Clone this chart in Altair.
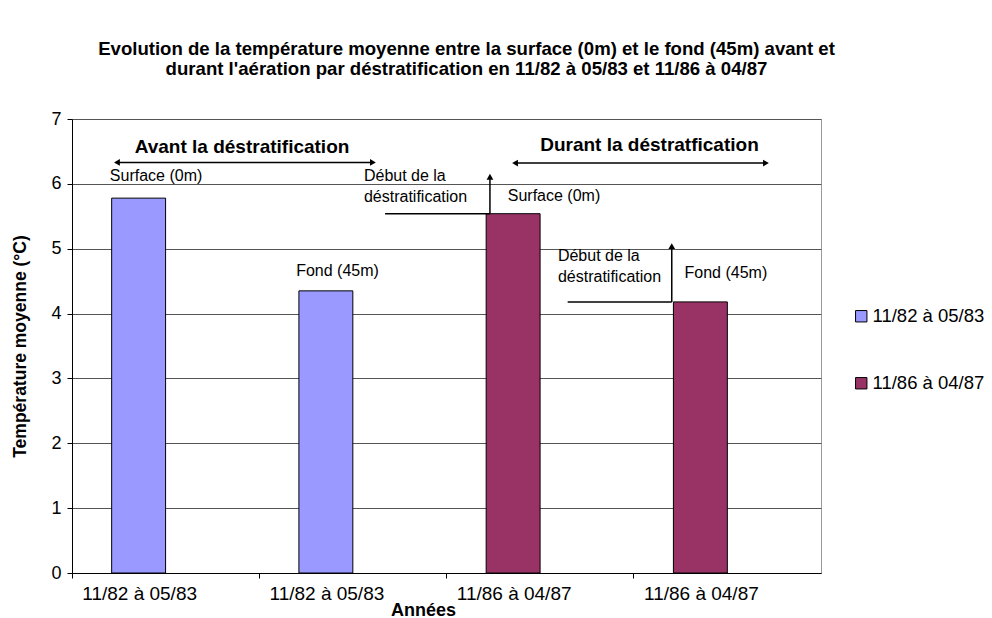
import json
import altair as alt
import pandas as pd

FONT = "Liberation Sans"

# ---- data ----
title_lines = [
    "Evolution de la température moyenne entre la surface (0m) et le fond (45m) avant et",
    "durant l'aération par déstratification en 11/82 à 05/83 et 11/86 à 04/87",
]
categories = ["11/82 à 05/83", "11/82 à 05/83", "11/86 à 04/87", "11/86 à 04/87"]
bar_series = ["11/82 à 05/83", "11/82 à 05/83", "11/86 à 04/87", "11/86 à 04/87"]
values = [5.78, 4.35, 5.54, 4.18]
series_names = ["11/82 à 05/83", "11/86 à 04/87"]
series_colors = ["#9999FF", "#993366"]
y_ticks = [0, 1, 2, 3, 4, 5, 6, 7]

# annotation texts (x in category units 0..4, y in °C)
head_labels = ["Avant la déstratification", "Durant la déstratfication"]
head_x = [0.908, 3.084]
head_y = [6.57, 6.60]

center_labels = ["Surface (0m)", "Fond (45m)", "Surface (0m)", "Fond (45m)"]
center_x = [0.449, 1.418, 2.574, 3.492]
center_y = [6.12, 4.65, 5.81, 4.63]

left_labels = ["Début de la", "déstratification", "Début de la", "déstratification"]
left_x = [1.559, 1.559, 2.595, 2.595]
left_y = [6.12, 5.80, 4.88, 4.57]

# arrows / leader lines
line_x = [0.24, 2.366, 2.232, 3.203, 1.672, 2.647]
line_x2 = [1.607, 3.706, 2.232, 3.203, 2.232, 3.203]
line_y = [6.33, 6.32, values[2], values[3], values[2], values[3]]
line_y2 = [6.33, 6.32, 6.11, 5.04, values[2], values[3]]

head_pt_x = [0.24, 1.607, 2.366, 3.706, 2.232, 3.203]
head_pt_y = [6.33, 6.33, 6.32, 6.32, 6.11, 5.04]
head_pt_shape = ["triangle-left", "triangle-right", "triangle-left", "triangle-right",
                 "triangle-up", "triangle-up"]

# ---- tables ----
bar_df = pd.DataFrame({"idx": list(range(len(categories))), "cat": categories,
                       "series": bar_series, "value": values})
head_df = pd.DataFrame({"t": head_labels, "x": head_x, "y": head_y})
center_df = pd.DataFrame({"t": center_labels, "x": center_x, "y": center_y})
left_df = pd.DataFrame({"t": left_labels, "x": left_x, "y": left_y})
line_df = pd.DataFrame({"x": line_x, "x2": line_x2, "y": line_y, "y2": line_y2})
pt_df = pd.DataFrame({"x": head_pt_x, "y": head_pt_y, "shape": head_pt_shape})

label_expr = json.dumps(categories, ensure_ascii=False) + "[datum.value]"

yscale = alt.Scale(domain=[0, 7], nice=False, zero=True)
ax_scale = alt.Scale(domain=[0, 4], nice=False, zero=False)

bars = alt.Chart(bar_df).mark_bar(
    width=alt.RelativeBandSize(0.288), xOffset=-27, stroke="black", strokeWidth=1, opacity=1
).encode(
    x=alt.X("idx:O", scale=alt.Scale(paddingInner=0, paddingOuter=0),
            axis=alt.Axis(title="Années", labelExpr=label_expr, labelAngle=0,
                          bandPosition=0, labelOffset=-26, labelFontSize=19, labelFont=FONT,
                          labelColor="black", labelPadding=6, tickSize=5, tickColor="black",
                          domainColor="black", grid=False, titleFont=FONT, titleFontSize=18,
                          titleFontWeight="bold", titleColor="black", titleX=351, titleY=37,
                          titleBaseline="middle", titleAlign="center", labelFlush=False)),
    y=alt.Y("value:Q", scale=yscale,
            axis=alt.Axis(title="Température moyenne (°C)", values=y_ticks, format="d",
                          labelFontSize=18, labelFont=FONT, labelColor="black", labelPadding=6,
                          tickSize=5, tickColor="black", domainColor="black", grid=True,
                          gridColor="#555", gridWidth=1, titleFont=FONT, titleFontSize=17.5,
                          titleFontWeight="bold", titleColor="black", titleX=-52, titleY=227,
                          titleAngle=-90, titleBaseline="middle", titleAlign="center")),
    color=alt.Color("series:N", scale=alt.Scale(domain=series_names, range=series_colors),
                    legend=alt.Legend(orient="none", legendX=780, legendY=188, title=None,
                                      direction="vertical", symbolType="square", symbolSize=130,
                                      symbolStrokeColor="black", symbolStrokeWidth=1,
                                      symbolOpacity=1, labelFontSize=18.5, labelFont=FONT,
                                      labelColor="black", rowPadding=48, padding=0,
                                      labelOffset=2)),
)

rules = alt.Chart(line_df).mark_rule(color="black", strokeWidth=1.5).encode(
    x=alt.X("x:Q", scale=ax_scale, axis=None), x2="x2:Q",
    y=alt.Y("y:Q", scale=yscale, axis=None), y2="y2:Q",
)

points = alt.Chart(pt_df).mark_point(filled=True, color="black", size=45, opacity=1).encode(
    x=alt.X("x:Q", scale=ax_scale, axis=None),
    y=alt.Y("y:Q", scale=yscale, axis=None),
    shape=alt.Shape("shape:N", scale=None, legend=None),
)

heads = alt.Chart(head_df).mark_text(font=FONT, fontSize=19, fontWeight="bold", color="black",
                                     align="center", baseline="middle").encode(
    x=alt.X("x:Q", scale=ax_scale, axis=None), y=alt.Y("y:Q", scale=yscale, axis=None), text="t:N")

centers = alt.Chart(center_df).mark_text(font=FONT, fontSize=16, color="black",
                                         align="center", baseline="middle").encode(
    x=alt.X("x:Q", scale=ax_scale, axis=None), y=alt.Y("y:Q", scale=yscale, axis=None), text="t:N")

lefts = alt.Chart(left_df).mark_text(font=FONT, fontSize=16, color="black",
                                     align="left", baseline="middle").encode(
    x=alt.X("x:Q", scale=ax_scale, axis=None), y=alt.Y("y:Q", scale=yscale, axis=None), text="t:N")

annot = alt.layer(rules, points, heads, centers, lefts)

chart = alt.layer(bars, annot).resolve_scale(x="independent").resolve_axis(
    x="independent", y="independent"
).properties(
    width=749, height=454,
    title=alt.TitleParams(text=title_lines, font=FONT, fontSize=18.6, fontWeight="bold",
                          color="black", anchor="middle", dx=20, offset=12, lineHeight=20,
                          baseline="bottom"),
    autosize="none",
    padding={"left": 64, "top": 111, "right": 163, "bottom": 45},
    background="white",
).configure_view(stroke="#999", strokeWidth=1)

chart.save("out.html", embed_options={"renderer": "svg", "actions": False})
